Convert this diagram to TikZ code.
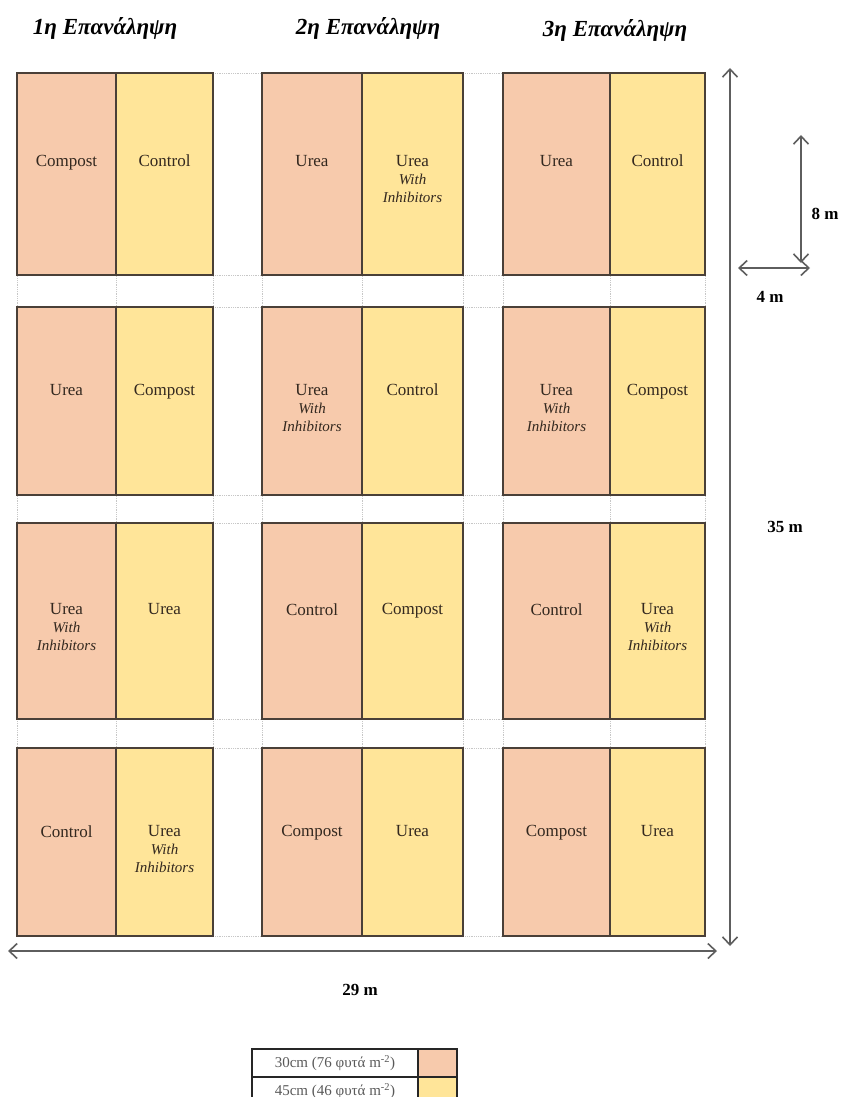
\documentclass[tikz,border=0pt]{standalone}
\usepackage{fontspec}
\setmainfont{Liberation Serif}
\usetikzlibrary{arrows.meta}
\definecolor{peach}{HTML}{F7CAAC}
\definecolor{gold}{HTML}{FFE599}
\definecolor{edgec}{HTML}{4A4038}
\definecolor{dimc}{HTML}{5E5E5E}
\definecolor{txtc}{HTML}{33281F}
\newcommand{\uwi}{Urea\\{\itshape\fontsize{15}{19}\selectfont With}\\{\itshape\fontsize{15}{19}\selectfont Inhibitors}}
\begin{document}
\begin{tikzpicture}[x=1pt,y=-1pt,
  cellbox/.style={draw=edgec, line width=1.2pt, inner sep=0pt, outer sep=0pt},
  pc/.style={cellbox, fill=peach},
  gc/.style={cellbox, fill=gold},
  wa1/.style={minimum width=99pt}, wb1/.style={minimum width=97pt},
  wa2/.style={minimum width=100pt}, wb2/.style={minimum width=101pt},
  wa3/.style={minimum width=107pt}, wb3/.style={minimum width=95pt},
  h1/.style={minimum height=202pt}, h2/.style={minimum height=188pt},
  h3/.style={minimum height=196pt}, h4/.style={minimum height=188pt},
  celltext/.style={anchor=north, inner sep=0pt, align=center, text=txtc, font=\fontsize{17}{18}\selectfont},
  title/.style={font=\fontsize{23}{26}\selectfont\bfseries\itshape, inner sep=0pt},
  dimlbl/.style={font=\fontsize{17}{20}\selectfont\bfseries, inner sep=0pt},
  dimarrow/.style={draw=dimc, line width=1.6pt, {Straight Barb[length=8pt,width=15pt]}-{Straight Barb[length=8pt,width=15pt]}},
  gridline/.style={draw=black!22, densely dotted, line width=0.8pt},
  legbox/.style={draw=black!85, line width=1.1pt, minimum height=28pt, inner sep=0pt},
  legtext/.style={font=\fontsize{15}{17}\selectfont, text=black!65, inner sep=0pt}
]
\useasboundingbox (0,0) rectangle (852,1097);
\fill[white] (0,0) rectangle (852,1097);

% faint dotted grid
\foreach \yy in {73,275,307,495,523,719,748,936}
  \draw[gridline] (17,\yy) -- (705,\yy);
\foreach \xx in {17,116,213,262,362,463,503,610,705}
  \draw[gridline] (\xx,73) -- (\xx,936);

% titles
\node[title] (t1) at (105,28) {1η Επανάληψη};
\node[title] (t2) at (368,28) {2η Επανάληψη};
\node[title] (t3) at (615,30) {3η Επανάληψη};

% row 1
\node[pc,wa1,h1] (a11) at (66.5,174) {};
\node[gc,wb1,h1] (b11) at (164.5,174) {};
\node[pc,wa2,h1] (a12) at (312,174) {};
\node[gc,wb2,h1] (b12) at (412.5,174) {};
\node[pc,wa3,h1] (a13) at (556.5,174) {};
\node[gc,wb3,h1] (b13) at (657.5,174) {};
% row 2
\node[pc,wa1,h2] (a21) at (66.5,401) {};
\node[gc,wb1,h2] (b21) at (164.5,401) {};
\node[pc,wa2,h2] (a22) at (312,401) {};
\node[gc,wb2,h2] (b22) at (412.5,401) {};
\node[pc,wa3,h2] (a23) at (556.5,401) {};
\node[gc,wb3,h2] (b23) at (657.5,401) {};
% row 3
\node[pc,wa1,h3] (a31) at (66.5,621) {};
\node[gc,wb1,h3] (b31) at (164.5,621) {};
\node[pc,wa2,h3] (a32) at (312,621) {};
\node[gc,wb2,h3] (b32) at (412.5,621) {};
\node[pc,wa3,h3] (a33) at (556.5,621) {};
\node[gc,wb3,h3] (b33) at (657.5,621) {};
% row 4
\node[pc,wa1,h4] (a41) at (66.5,842) {};
\node[gc,wb1,h4] (b41) at (164.5,842) {};
\node[pc,wa2,h4] (a42) at (312,842) {};
\node[gc,wb2,h4] (b42) at (412.5,842) {};
\node[pc,wa3,h4] (a43) at (556.5,842) {};
\node[gc,wb3,h4] (b43) at (657.5,842) {};

% cell texts
\node[celltext] (a11t) at ([yshift=19pt]a11.center) {Compost};
\node[celltext] (b11t) at ([yshift=19pt]b11.center) {Control};
\node[celltext] (a12t) at ([yshift=19pt]a12.center) {Urea};
\node[celltext] (b12t) at ([yshift=19pt]b12.center) {\uwi};
\node[celltext] (a13t) at ([yshift=19pt]a13.center) {Urea};
\node[celltext] (b13t) at ([yshift=19pt]b13.center) {Control};

\node[celltext] (a21t) at ([yshift=17pt]a21.center) {Urea};
\node[celltext] (b21t) at ([yshift=17pt]b21.center) {Compost};
\node[celltext] (a22t) at ([yshift=17pt]a22.center) {\uwi};
\node[celltext] (b22t) at ([yshift=17pt]b22.center) {Control};
\node[celltext] (a23t) at ([yshift=17pt]a23.center) {\uwi};
\node[celltext] (b23t) at ([yshift=17pt]b23.center) {Compost};

\node[celltext] (a31t) at ([yshift=18pt]a31.center) {\uwi};
\node[celltext] (b31t) at ([yshift=18pt]b31.center) {Urea};
\node[celltext] (a32t) at ([yshift=18pt]a32.center) {Control};
\node[celltext] (b32t) at ([yshift=18pt]b32.center) {Compost};
\node[celltext] (a33t) at ([yshift=18pt]a33.center) {Control};
\node[celltext] (b33t) at ([yshift=18pt]b33.center) {\uwi};

\node[celltext] (a41t) at ([yshift=17pt]a41.center) {Control};
\node[celltext] (b41t) at ([yshift=17pt]b41.center) {\uwi};
\node[celltext] (a42t) at ([yshift=17pt]a42.center) {Compost};
\node[celltext] (b42t) at ([yshift=17pt]b42.center) {Urea};
\node[celltext] (a43t) at ([yshift=17pt]a43.center) {Compost};
\node[celltext] (b43t) at ([yshift=17pt]b43.center) {Urea};

% dimension arrows
\coordinate (vtop) at (730,68);
\coordinate (vbot) at (730,946);
\coordinate (hleft) at (8,951);
\coordinate (hright) at (717,951);
\coordinate (stop) at (801,135);
\coordinate (sbot) at (801,263);
\coordinate (wleft) at (738,268);
\coordinate (wright) at (810,268);
\draw[dimarrow] (vtop) -- (vbot);
\draw[dimarrow] (hleft) -- (hright);
\draw[dimarrow] (stop) -- (sbot);
\draw[dimarrow] (wleft) -- (wright);
\node[dimlbl] (l35) at (785,527) {35 m};
\node[dimlbl] (l29) at (360,990) {29 m};
\node[dimlbl] (l8) at (825,214) {8 m};
\node[dimlbl] (l4) at (770,297) {4 m};

% legend
\node[legbox, minimum width=166pt] (leg1) at (335,1063) {};
\node[legbox, fill=peach, minimum width=39pt] (sw1) at (437.5,1063) {};
\node[legbox, minimum width=166pt] (leg2) at (335,1091) {};
\node[legbox, fill=gold, minimum width=39pt] (sw2) at (437.5,1091) {};
\node[legtext] (lt1) at (leg1.center) {30cm (76 φυτά m\textsuperscript{-2})};
\node[legtext] (lt2) at (leg2.center) {45cm (46 φυτά m\textsuperscript{-2})};
\end{tikzpicture}
\end{document}
